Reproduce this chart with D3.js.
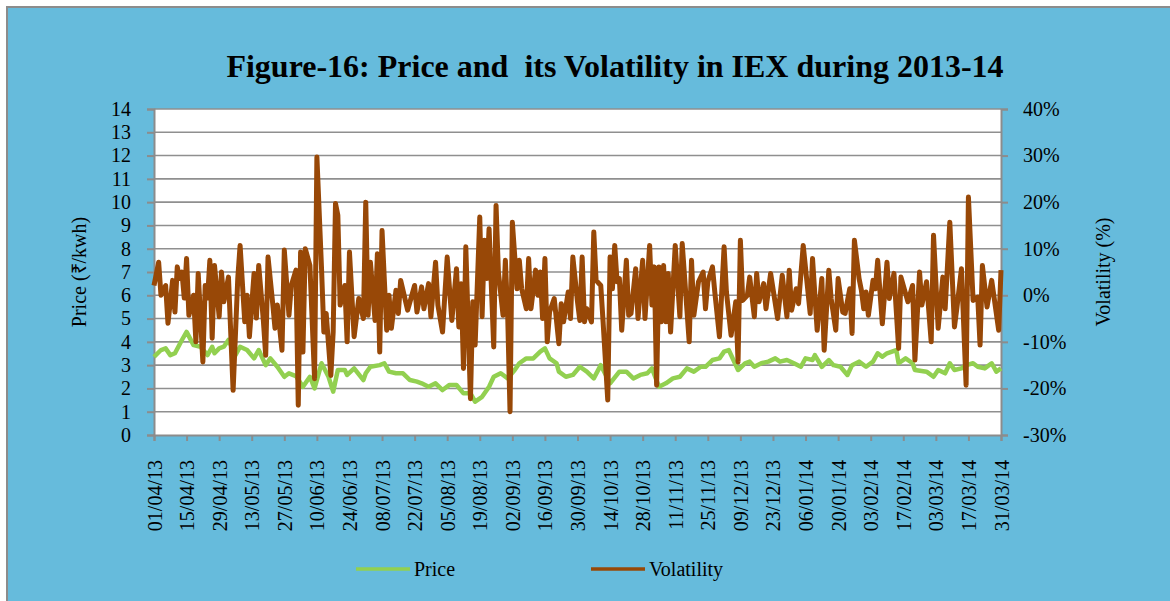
<!DOCTYPE html>
<html>
<head>
<meta charset="utf-8">
<script src="https://cdn.jsdelivr.net/npm/d3@7"></script>
<style>
  body { margin: 0; background: #fff; }
  text { font-family: "Liberation Serif", "Times New Roman", serif; fill: #000; }
</style>
</head>
<body>
<div id="chart"></div>
<script>
// x axis tick labels (every 14 days)
var tickLabels = ["01/04/13","15/04/13","29/04/13","13/05/13","27/05/13","10/06/13","24/06/13",
  "08/07/13","22/07/13","05/08/13","19/08/13","02/09/13","16/09/13","30/09/13","14/10/13",
  "28/10/13","11/11/13","25/11/13","09/12/13","23/12/13","06/01/14","20/01/14","03/02/14",
  "17/02/14","03/03/14","17/03/14","31/03/14"];

var priceTicks = [0,1,2,3,4,5,6,7,8,9,10,11,12,13,14];
var volTicks = [-30,-20,-10,0,10,20,30,40];

// price (Rs/kwh) - day offset from 01/04/13 and value
var priceDays = [0,3,5,7,9,12,14,17,20,23,25,26,28,30,32,35,37,40,43,45,48,50,53,56,58,61,64,67,69,72,
  75,77,79,82,83,86,90,91,93,97,99,101,104,107,110,113,115,118,121,124,127,130,133,136,138,141,144,146,
  149,152,155,157,160,163,166,168,170,173,174,177,180,183,186,189,192,196,200,203,206,209,212,214,217,
  220,223,226,229,232,235,237,240,243,245,247,249,251,254,256,258,261,264,267,269,272,275,278,280,283,
  284,287,290,292,295,298,300,303,306,309,311,313,315,319,320,323,326,327,332,335,337,340,342,344,347,
  349,352,354,357,360,362,364];
var priceValues = [3.36,3.65,3.72,3.43,3.51,4.08,4.43,3.86,3.79,3.43,3.79,3.51,3.72,3.79,4.08,3.43,3.79,
  3.65,3.29,3.65,3.0,3.29,2.93,2.5,2.65,2.53,2.07,2.5,2.0,3.08,2.5,1.86,2.79,2.79,2.58,2.86,2.36,2.65,
  2.93,3.0,3.08,2.72,2.65,2.65,2.36,2.29,2.22,2.07,2.22,1.93,2.15,2.15,1.79,1.79,1.43,1.64,2.07,2.5,
  2.65,2.43,2.79,3.08,3.29,3.29,3.58,3.72,3.29,3.08,2.72,2.5,2.58,2.93,2.72,2.43,3.0,2.22,2.72,2.72,
  2.43,2.58,2.65,2.86,2.07,2.22,2.43,2.5,2.86,2.72,2.93,2.93,3.22,3.29,3.58,3.65,3.22,2.79,3.08,3.15,
  2.93,3.08,3.15,3.29,3.15,3.22,3.08,2.93,3.29,3.22,3.43,2.93,3.22,3.0,2.93,2.58,3.0,3.15,2.93,3.15,
  3.51,3.36,3.51,3.65,3.08,3.29,3.08,2.79,2.72,2.5,2.79,2.65,3.08,2.79,2.86,3.0,3.08,2.93,2.86,3.08,
  2.72,2.86];

// volatility (%) - day offset from 01/04/13 and value
var volDays = [0,2,3,5,6,8,9,10,11,12,13,14,15,17,18,19,21,22,23,24,25,26,28,29,30,32,34,36,37,39,40,41,
  43,44,45,47,48,49,51,52,53,55,56,58,59,61,62,63,64,65,67,69,70,72,73,74,76,77,78,79,80,82,83,84,86,88,
  90,91,92,93,95,96,97,98,100,101,102,104,105,106,109,112,113,115,116,118,119,121,122,124,126,128,130,
  131,132,133,134,136,137,138,140,141,142,143,144,146,147,148,150,151,152,153,154,156,157,158,160,161,
  162,164,165,166,167,168,169,170,172,174,175,176,178,179,180,182,183,184,185,186,188,189,190,192,193,
  195,196,197,198,199,200,201,203,204,205,207,208,210,211,213,214,215,216,217,218,219,220,221,222,224,
  226,227,230,231,232,234,236,237,238,240,241,243,245,246,248,250,251,252,253,255,256,258,259,260,262,
  263,265,268,270,272,273,274,276,277,279,282,283,285,287,288,290,291,293,294,296,297,299,300,301,303,
  304,305,306,307,309,310,311,313,315,316,318,320,321,324,326,327,329,330,332,334,335,337,339,340,342,
  344,345,347,349,350,352,354,355,356,358,360,363,364];
var volValues = [2.1,7.1,0,2.1,-6.0,3.2,-3.6,6.1,3.6,5.0,-0.6,7.9,-4.3,0,-10,4.7,-14.3,2.1,-0.6,7.5,-9.2,
  6.4,-4.6,5.0,-1.4,3.9,-20.4,3.6,10.7,-5.7,0,-8.9,4.7,-4.9,6.4,-5.4,-12.9,8.2,-1.7,-7.1,-2.1,-11.8,9.7,
  -4.3,2.1,5.4,-23.6,9.3,-12.2,10.0,6.4,-17.9,29.7,5.7,-7.9,-3.9,-17.2,-7.9,19.7,17.2,-2.1,2.1,-10,9.3,
  -8.9,-0.7,-5.0,20.0,-4.3,7.1,-5.4,8.9,-12.2,13.9,-7.5,0,-7.1,1.1,-3.9,3.2,-3.2,2.1,-3.6,1.8,-2.9,2.5,
  -4.6,7.1,-2.1,-7.9,8.2,-5.4,5.7,-6.8,2.5,-15.7,10.4,-22.2,-1.4,-10.7,16.8,-4.6,11.8,3.6,14.3,-11.1,
  19.3,5.0,-4.3,7.5,-4.3,-25.0,15.7,1.4,7.5,1.4,-2.9,7.9,-2.9,5.4,0,5.0,-5.0,7.9,-10,-3.6,-0.7,-10.4,
  -1.8,-5.7,0.7,-5.0,8.2,-1.4,-5.4,8.2,-5.7,-2.9,-5.7,13.6,3.2,2.1,-5.7,-22.5,8.2,1.4,10.7,2.9,3.6,
  -7.5,7.5,-4.3,-3.9,5.7,-5.0,7.5,-5.0,10.7,-2.1,6.1,-19.3,6.1,-5.7,6.4,-5.7,4.7,-7.9,10.7,-4.6,11.1,
  -10,7.5,-4.3,2.9,5.0,-2.9,2.9,6.1,0.7,-8.9,10.4,0.7,-8.6,-1.4,-14.3,11.8,-1.1,0,3.9,-4.6,4.7,-1.4,
  2.5,-2.9,4.7,-5.0,4.3,-4.6,5.4,-3.2,1.4,-1.8,10.7,-3.9,7.9,-7.5,3.6,-11.8,5.4,-0.7,-7.5,3.6,-3.6,
  -3.9,1.4,-8.2,11.8,3.6,1.1,-2.9,0.7,-4.3,3.2,1.4,7.5,-6.1,7.1,-0.7,4.7,-11.4,3.9,-1.4,2.1,-13.9,5.0,
  -2.1,2.9,-10,12.9,-7.1,3.9,-2.9,15.7,-6.8,-2.9,5.7,-19.3,21.1,-1.1,-0.4,-10.7,6.4,-2.5,3.2,-7.5,5.4];

var W = 1170, H = 601;
var plotLeft = 154, plotRight = 1001, plotTop = 109, plotBottom = 435;

var parse = d3.timeParse("%d/%m/%y");
var start = parse(tickLabels[0]);
var end = parse(tickLabels[tickLabels.length - 1]);
function dayDate(d) { return d3.timeDay.offset(start, d); }

var svg = d3.select("#chart").append("svg")
  .attr("width", W)
  .attr("height", H);

// blue chart area with border
svg.append("rect")
  .attr("x", 7).attr("y", 7)
  .attr("width", W).attr("height", H)
  .attr("fill", "#66bbdc")
  .attr("stroke", "#8c8c8c")
  .attr("stroke-width", 2);

svg.append("rect")
  .attr("x", plotLeft).attr("y", plotTop)
  .attr("width", plotRight - plotLeft).attr("height", plotBottom - plotTop)
  .attr("fill", "#fff");

var x = d3.scaleTime().domain([start, end]).range([plotLeft, plotRight]);
var yP = d3.scaleLinear().domain([0, 14]).range([plotBottom, plotTop]);
var yV = d3.scaleLinear().domain([-30, 40]).range([plotBottom, plotTop]);

// gridlines
svg.append("g").selectAll("line")
  .data(priceTicks.slice(1))
  .enter()
  .append("line")
  .attr("x1", plotLeft).attr("x2", plotRight)
  .attr("y1", function(d) { return yP(d); })
  .attr("y2", function(d) { return yP(d); })
  .attr("stroke", "#8f8f8f")
  .attr("stroke-width", 1.6);

// axes
var axLeft = svg.append("g")
  .attr("transform", "translate(" + plotLeft + ",0)")
  .call(d3.axisLeft(yP).tickValues(priceTicks).tickSize(7).tickPadding(16));

var axRight = svg.append("g")
  .attr("transform", "translate(" + plotRight + ",0)")
  .call(d3.axisRight(yV).tickValues(volTicks).tickSize(7).tickPadding(15)
    .tickFormat(function(d) { return d + "%"; }));

var axBottom = svg.append("g")
  .attr("transform", "translate(0," + plotBottom + ")")
  .call(d3.axisBottom(x).tickValues(tickLabels.map(parse)).tickSize(6)
    .tickFormat(d3.timeFormat("%d/%m/%y")));

axBottom.selectAll("text")
  .attr("transform", "rotate(-90)")
  .attr("text-anchor", "end")
  .attr("x", -25)
  .attr("y", 0)
  .attr("dy", "0.35em");

[axLeft, axRight, axBottom].forEach(function(g) {
  g.selectAll("path, line").attr("stroke", "#8c8c8c").attr("stroke-width", 2);
  g.selectAll("text")
    .style("font-family", "'Liberation Serif', 'Times New Roman', serif")
    .style("font-size", "20px")
    .attr("fill", "#000");
});

// lines
var priceLine = d3.line()
  .x(function(d, i) { return x(dayDate(priceDays[i])); })
  .y(function(d) { return yP(d); });

var volLine = d3.line()
  .x(function(d, i) { return x(dayDate(volDays[i])); })
  .y(function(d) { return yV(d); });

svg.append("path")
  .datum(priceValues)
  .attr("d", priceLine)
  .attr("fill", "none")
  .attr("stroke", "#92d050")
  .attr("stroke-width", 4.5)
  .attr("stroke-linejoin", "round");

svg.append("path")
  .datum(volValues)
  .attr("d", volLine)
  .attr("fill", "none")
  .attr("stroke", "#984807")
  .attr("stroke-width", 5)
  .attr("stroke-linejoin", "round");

// title
svg.append("text")
  .attr("x", 615).attr("y", 77)
  .attr("text-anchor", "middle")
  .attr("xml:space", "preserve")
  .style("white-space", "pre")
  .style("font-size", "32px")
  .style("font-weight", "bold")
  .text("Figure-16: Price and  its Volatility in IEX during 2013-14");

// axis titles
svg.append("text")
  .attr("transform", "translate(86," + ((plotTop + plotBottom) / 2) + ") rotate(-90)")
  .attr("text-anchor", "middle")
  .style("font-size", "20px")
  .text("Price (₹/kwh)");

svg.append("text")
  .attr("transform", "translate(1110," + ((plotTop + plotBottom) / 2) + ") rotate(-90)")
  .attr("text-anchor", "middle")
  .style("font-size", "20px")
  .text("Volatility (%)");

// legend
var legend = [
  { name: "Price", color: "#92d050", x: 356 },
  { name: "Volatility", color: "#984807", x: 591 }
];
var lg = svg.append("g").selectAll("g")
  .data(legend)
  .enter()
  .append("g");
lg.append("line")
  .attr("x1", function(d) { return d.x; })
  .attr("x2", function(d) { return d.x + 54; })
  .attr("y1", 569).attr("y2", 569)
  .attr("stroke", function(d) { return d.color; })
  .attr("stroke-width", 3.5);
lg.append("text")
  .attr("x", function(d) { return d.x + 58; })
  .attr("y", 576)
  .style("font-size", "20px")
  .text(function(d) { return d.name; });
</script>
</body>
</html>
